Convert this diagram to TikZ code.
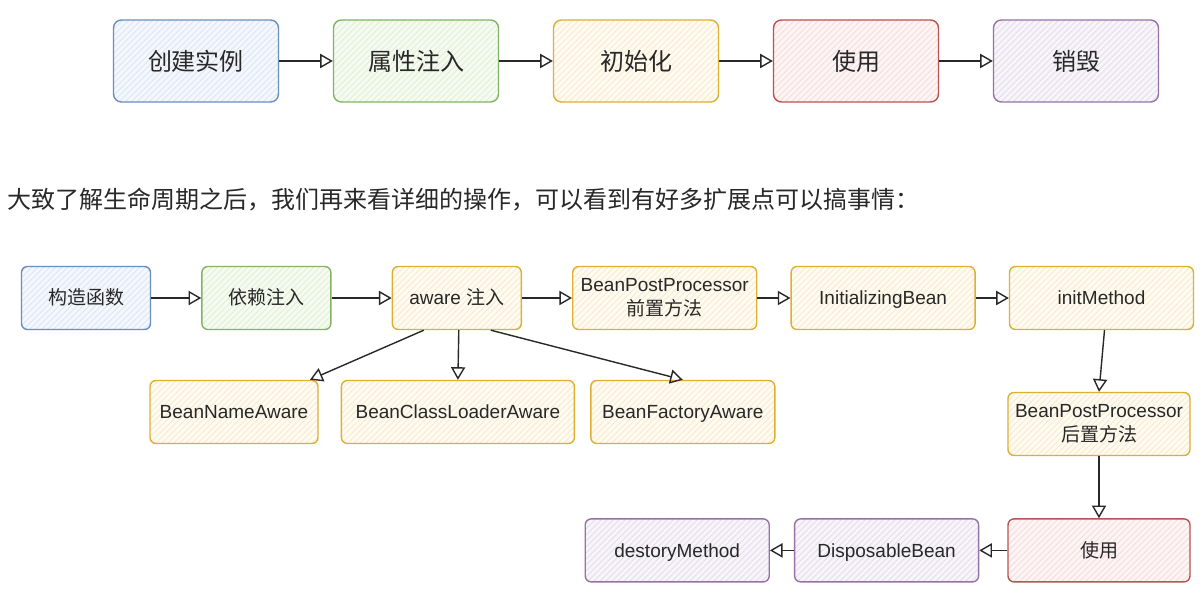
\documentclass[tikz,border=0pt]{standalone}
\usepackage{fontspec}
\setmainfont{Liberation Sans}
\newfontfamily\cjk{Noto Sans CJK SC}
\usetikzlibrary{arrows,positioning,patterns}

\definecolor{blueline}{RGB}{108,142,191}
\definecolor{bluefill}{RGB}{244,248,253}
\definecolor{bluehatch}{RGB}{220,230,243}
\definecolor{greenline}{RGB}{130,179,102}
\definecolor{greenfill}{RGB}{245,251,241}
\definecolor{greenhatch}{RGB}{224,239,214}
\definecolor{yellowline}{RGB}{221,176,52}
\definecolor{yellowfill}{RGB}{255,251,241}
\definecolor{yellowhatch}{RGB}{246,235,210}
\definecolor{redline}{RGB}{184,84,80}
\definecolor{redfill}{RGB}{253,244,244}
\definecolor{redhatch}{RGB}{244,221,221}
\definecolor{purpleline}{RGB}{150,115,166}
\definecolor{purplefill}{RGB}{247,244,250}
\definecolor{purplehatch}{RGB}{229,221,237}
\definecolor{ink}{RGB}{40,40,40}

\begin{document}
\begin{tikzpicture}[->,>=open triangle 60,x=0.5pt,y=-0.5pt,node distance=110pt,
  line width=0.7pt,draw=ink]
  \tikzstyle{box}=[rectangle,rounded corners=3pt,align=center,text=ink,inner sep=2pt]
  \tikzstyle{big}=[box,rounded corners=4pt,minimum width=82.5pt,minimum height=41pt,font=\fontsize{12}{14}\selectfont\cjk]
  \tikzstyle{small}=[box,minimum height=31.5pt,font=\fontsize{9.5}{12}\selectfont]
  \tikzstyle{one}=[small,text height=8pt,text depth=1pt]
  \tikzstyle{bl}=[draw=blueline,preaction={fill=bluefill},pattern=north east lines,pattern color=bluehatch]
  \tikzstyle{gr}=[draw=greenline,preaction={fill=greenfill},pattern=north east lines,pattern color=greenhatch]
  \tikzstyle{ye}=[draw=yellowline,preaction={fill=yellowfill},pattern=north east lines,pattern color=yellowhatch]
  \tikzstyle{re}=[draw=redline,preaction={fill=redfill},pattern=north east lines,pattern color=redhatch]
  \tikzstyle{pu}=[draw=purpleline,preaction={fill=purplefill},pattern=north east lines,pattern color=purplehatch]

  \path[use as bounding box,fill=white] (0,0) rectangle (1201,593);

  % overview
  \node[big,bl] (create) at (196,61)  {创建实例};
  \node[big,gr] (props)  [right of=create] {属性注入};
  \node[big,ye] (init)   [right of=props]  {初始化};
  \node[big,re] (use)    [right of=init]   {使用};
  \node[big,pu] (destroy)[right of=use]    {销毁};

  \path (create) edge (props)
        (props)  edge (init)
        (init)   edge (use)
        (use)    edge (destroy);

  \node[anchor=west,text=ink,font=\fontsize{12}{14}\selectfont\cjk] (note) at (0,200)
    {大致了解生命周期之后，我们再来看详细的操作，可以看到有好多扩展点可以搞事情：};

  % detail
  \node[one,bl,minimum width=64.5pt] (ctor) at (86,298) {\cjk 构造函数};
  \node[one,gr,minimum width=64.5pt] (dep)   [right=25pt of ctor]   {\cjk 依赖注入};
  \node[one,ye,minimum width=64.5pt] (aware) [right=30pt of dep]    {aware {\cjk 注入}};
  \node[small,ye,minimum width=92pt] (bpp1)  [right=25pt of aware]  {BeanPostProcessor\\{\cjk 前置方法}};
  \node[one,ye,minimum width=92pt]   (ibean) [right=16.5pt of bpp1] {InitializingBean};
  \node[one,ye,minimum width=92pt]   (imeth) [right=16.5pt of ibean]{initMethod};

  \node[one,ye,minimum width=84pt]   (bna) at (234,412)            {BeanNameAware};
  \node[one,ye,minimum width=116.5pt](bcla)  [right=11pt of bna]   {BeanClassLoaderAware};
  \node[one,ye,minimum width=92pt]   (bfa)   [right=7.5pt of bcla] {BeanFactoryAware};

  \node[small,ye,minimum width=91pt] (bpp2) at (1099,424)          {BeanPostProcessor\\{\cjk 后置方法}};
  \node[one,re,minimum width=91pt]   (use2)  [below=31pt of bpp2]  {\cjk 使用};
  \node[one,pu,minimum width=92pt]   (disp)  [left=14pt of use2]   {DisposableBean};
  \node[one,pu,minimum width=92pt]   (dmeth) [left=12pt of disp]   {destoryMethod};

  \path (ctor)  edge (dep)
        (dep)   edge (aware)
        (aware) edge (bpp1)
        (bpp1)  edge (ibean)
        (ibean) edge (imeth)
        ([xshift=-16.5pt]aware.south) edge ([xshift=38pt]bna.north)
        ([xshift=1pt]aware.south)     edge (bcla.north)
        ([xshift=17pt]aware.south)    edge (bfa.north)
        ([xshift=1.5pt]imeth.south)   edge (bpp2.north)
        (bpp2)  edge (use2)
        (use2)  edge (disp)
        (disp)  edge (dmeth);
\end{tikzpicture}
\end{document}
